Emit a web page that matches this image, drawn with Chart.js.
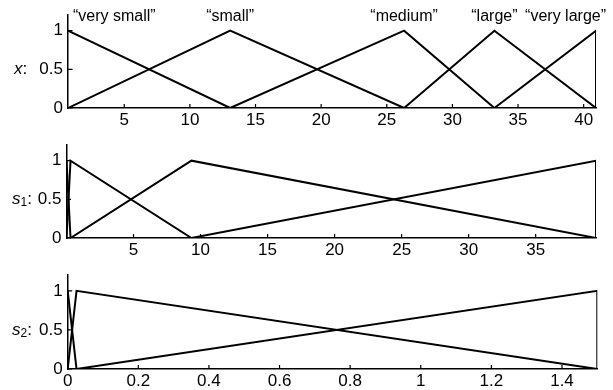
<!DOCTYPE html>
<html>
<head>
<meta charset="utf-8">
<script src="https://cdn.jsdelivr.net/npm/chart.js@4.4.1/dist/chart.umd.min.js"></script>
<style>
  html, body { margin: 0; padding: 0; background: #fff; }
  canvas { display: block; }
</style>
</head>
<body>
<canvas id="cx" width="613" height="130"></canvas>
<canvas id="cs1" width="613" height="130"></canvas>
<canvas id="cs2" width="613" height="130"></canvas>
<script>
// --- panel 1: x, five triangular sets ---
const xPeaks = [0.715, 13.07, 26.32, 33.2, 40.94];
const xNames = ['\u201cvery small\u201d', '\u201csmall\u201d', '\u201cmedium\u201d', '\u201clarge\u201d', '\u201cvery large\u201d'];
const xSetsX = [
  [0.715, 13.07],
  [0.715, 13.07, 26.32],
  [13.07, 26.32, 33.2],
  [26.32, 33.2, 40.94],
  [33.2, 40.94, 40.94]
];
const xSetsY = [[1, 0], [0, 1, 0], [0, 1, 0], [0, 1, 0], [0, 1, 0]];
const xTicks = [5, 10, 15, 20, 25, 30, 35, 40];

// --- panel 2: s1, four sets ---
const s1SetsX = [
  [0, 0.3],
  [0, 0.3, 9.32],
  [0.3, 9.32, 39.5],
  [9.32, 39.5, 39.5]
];
const s1SetsY = [[1, 0], [0, 1, 0], [0, 1, 0], [0, 1, 0]];
const s1Ticks = [5, 10, 15, 20, 25, 30, 35];

// --- panel 3: s2, three sets ---
const s2SetsX = [
  [0, 0.025],
  [0, 0.025, 1.5],
  [0.025, 1.5, 1.5]
];
const s2SetsY = [[1, 0], [0, 1, 0], [0, 1, 0]];
const s2Ticks = [0, 0.2, 0.4, 0.6, 0.8, 1, 1.2, 1.4];

const yTicks = [0, 0.5, 1];

const FONT = '"Liberation Sans", Arial, Helvetica, sans-serif';
const TICK_SIZE = 17;

// small tick marks pointing into the plot
const inwardTicks = {
  id: 'inwardTicks',
  afterDraw(chart) {
    const ctx = chart.ctx, xs = chart.scales.x, ys = chart.scales.y, a = chart.chartArea;
    ctx.save();
    ctx.strokeStyle = '#000';
    ctx.lineWidth = 1.2;
    ctx.beginPath();
    xs.ticks.forEach(t => {
      const px = xs.getPixelForValue(t.value);
      ctx.moveTo(px, a.bottom); ctx.lineTo(px, a.bottom - 4);
    });
    ys.ticks.forEach(t => {
      const py = ys.getPixelForValue(t.value);
      ctx.moveTo(a.left, py); ctx.lineTo(a.left + 4.5, py);
    });
    ctx.stroke();
    ctx.restore();
  }
};

// variable name written horizontally beside the 0.5 tick
const axisName = {
  id: 'axisName',
  afterDraw(chart, args, opts) {
    if (!opts.main) return;
    const ctx = chart.ctx, ys = chart.scales.y;
    const py = ys.getPixelForValue(0.5);
    let x = opts.left;
    ctx.save();
    ctx.fillStyle = '#000';
    ctx.textBaseline = 'middle';
    ctx.textAlign = 'left';
    ctx.font = 'italic ' + TICK_SIZE + 'px ' + FONT;
    ctx.fillText(opts.main, x, py);
    x += ctx.measureText(opts.main).width;
    if (opts.sub) {
      ctx.font = '12px ' + FONT;
      ctx.fillText(opts.sub, x, py + 3.5);
      x += ctx.measureText(opts.sub).width;
    }
    ctx.font = TICK_SIZE + 'px ' + FONT;
    ctx.fillText(':', x, py);
    ctx.restore();
  }
};

// set names above the peaks
const setNames = {
  id: 'setNames',
  afterDraw(chart, args, opts) {
    if (!opts.names) return;
    const ctx = chart.ctx, xs = chart.scales.x, a = chart.chartArea;
    ctx.save();
    ctx.fillStyle = '#000';
    ctx.font = '16px ' + FONT;
    ctx.textBaseline = 'alphabetic';
    ctx.textAlign = 'left';
    opts.names.forEach((n, i) => {
      const w = ctx.measureText(n).width;
      let left = xs.getPixelForValue(opts.peaks[i]) - w / 2;
      left = Math.max(left, a.left + 5);
      left = Math.min(left, chart.width - 7 - w);
      ctx.fillText(n, left, opts.baseline);
    });
    ctx.restore();
  }
};

function makePanel(id, setsX, setsY, ticks, xMin, xMax, box, extra) {
  const datasets = setsX.map((xs, i) => ({
    data: xs.map((v, j) => ({ x: v, y: setsY[i][j] })),
    showLine: true,
    borderColor: '#000',
    borderWidth: 2,
    pointRadius: 0,
    fill: false,
    tension: 0
  }));
  return new Chart(document.getElementById(id), {
    type: 'scatter',
    data: { datasets },
    plugins: [inwardTicks, axisName, setNames],
    options: {
      responsive: false,
      animation: false,
      events: [],
      layout: { padding: { left: 0, top: box.top, right: box.right, bottom: 0 } },
      scales: {
        x: {
          type: 'linear',
          min: xMin,
          max: xMax,
          afterBuildTicks: s => { s.ticks = ticks.map(v => ({ value: v })); },
          afterFit: s => { s.height = 130 - box.bottom; },
          grid: { display: false, drawTicks: false },
          border: { display: true, color: '#000', width: 1.5 },
          ticks: { color: '#000', font: { family: FONT, size: TICK_SIZE }, padding: 2, maxRotation: 0, autoSkip: false,
                   callback: v => String(v) }
        },
        y: {
          type: 'linear',
          min: 0,
          max: 1.2,
          afterBuildTicks: s => { s.ticks = yTicks.map(v => ({ value: v })); },
          afterFit: s => { s.width = box.left; },
          grid: { display: false, drawTicks: false },
          border: { display: true, color: '#000', width: 1.5 },
          ticks: { color: '#000', font: { family: FONT, size: TICK_SIZE }, padding: 5,
                   callback: v => String(v) }
        }
      },
      plugins: {
        legend: { display: false },
        tooltip: { enabled: false },
        axisName: extra.name,
        setNames: extra.labels || {}
      }
    }
  });
}

makePanel('cx', xSetsX, xSetsY, xTicks, 0.715, 40.94,
  { top: 13, bottom: 108, left: 68, right: 17 },
  { name: { main: 'x', sub: '', left: 14 }, labels: { names: xNames, peaks: xPeaks, baseline: 21 } });

makePanel('cs1', s1SetsX, s1SetsY, s1Ticks, 0, 39.5,
  { top: 13, bottom: 108, left: 66.5, right: 17 },
  { name: { main: 's', sub: '1', left: 12 } });

makePanel('cs2', s2SetsX, s2SetsY, s2Ticks, 0, 1.5,
  { top: 14, bottom: 109, left: 67.7, right: 15.7 },
  { name: { main: 's', sub: '2', left: 12 } });
</script>
</body>
</html>
